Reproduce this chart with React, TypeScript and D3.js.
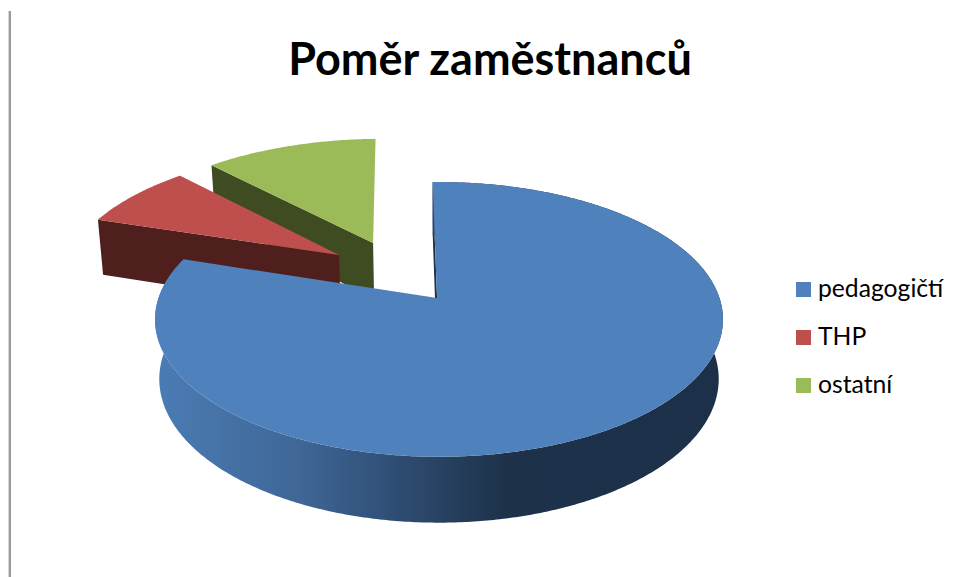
import * as d3 from "d3";

// Data
const categories = ["pedagogičtí", "THP", "ostatní"];
const shares = [80.3, 7.9, 11.8];
const topColors = ["#4f81bd", "#be4f4c", "#9bbb59"];
const wallColors = ["#1d3149", "#4f1f1e", "#3f4b21"];
// how far each slice is pulled out of the pie, in unit-circle coordinates
const explodeU = [0, -0.375, -0.251];
const explodeV = [0, -0.338, -0.438];
const sliceRadius = [1, 1.01, 1.02];
// the apex of the big slice sits slightly off the centre of its rim
const apexU = [-0.007, -0.375, -0.251];
const wallStops = [
  [0, "#4b7cb5"],
  [0.25, "#3f6797"],
  [0.42, "#2f4e74"],
  [0.62, "#1d3149"],
  [1, "#1c3049"],
];

const WIDTH = 956;
const HEIGHT = 577;
const FONT = "Lato, 'Open Sans', sans-serif";

// Perspective of the pie plane
const x0 = 439;
const y0 = 298;
const a = 280.5;
const b = 134;
const p = 0.156;
const bottomY0 = 356.6;
const bottomSX = 0.985;
const bottomSY = 1.046;

const START = (-1.5 * Math.PI) / 180;

type Pt = [number, number];

const toTop = (u: number, v: number): Pt => {
  const w = 1 - p * v;
  return [x0 + (a * u) / w, y0 + (b * v) / w];
};

const toBottom = (u: number, v: number): Pt => {
  const w = 1 - p * v;
  return [x0 + (bottomSX * a * u) / w, bottomY0 + (bottomSY * b * v) / w];
};

const line = d3.line<Pt>();

const pie = d3
  .pie<number>()
  .sort(null)
  .startAngle(START)
  .endAngle(START + 2 * Math.PI);

const App = () => {
  const arcs = pie(shares);

  const slices = arcs.map((d, i) => {
    const r = sliceRadius[i];
    const angles = d3.range(d.startAngle, d.endAngle, 0.01).concat(d.endAngle);
    const rim = angles.map((t): Pt => [explodeU[i] + r * Math.sin(t), explodeV[i] - r * Math.cos(t)]);
    const tip: Pt = [apexU[i], explodeV[i]];
    const topFace = [tip, ...rim].map(([u, v]) => toTop(u, v));
    const first = rim[0];
    const radialWall = [
      toTop(tip[0], tip[1]),
      toTop(first[0], first[1]),
      toBottom(first[0], first[1]),
      toBottom(tip[0], tip[1]),
    ];
    const outerWall = [
      ...rim.map(([u, v]) => toTop(u, v)),
      ...rim.map(([u, v]) => toBottom(u, v)).reverse(),
    ];
    return { topFace, radialWall, outerWall };
  });

  // back to front: ostatní, THP, pedagogičtí
  const order = d3.range(shares.length).reverse();

  return (
    <svg
      width={WIDTH}
      height={HEIGHT}
      style={{ position: "absolute", left: 0, top: 0, display: "block", background: "#fff" }}
    >
      <defs>
        <linearGradient id="blue-wall" gradientUnits="userSpaceOnUse" x1={155} x2={723} y1={0} y2={0}>
          {wallStops.map(([o, c]) => (
            <stop key={o} offset={o} stopColor={c as string} />
          ))}
        </linearGradient>
      </defs>

      <rect x={8} y={11} width={1} height={HEIGHT - 11} fill="#d8d8d8" />
      <rect x={9} y={11} width={2} height={HEIGHT - 11} fill="#9a9a9a" />

      <text
        x={490}
        y={75}
        textAnchor="middle"
        fontFamily={FONT}
        fontWeight={700}
        fontSize={45}
        fill="#000"
      >
        Poměr zaměstnanců
      </text>

      {order.map((i) => (
        <g key={categories[i]}>
          <path d={line(slices[i].radialWall) + "Z"} fill={wallColors[i]} />
          {i === 0 && <path d={line(slices[i].outerWall) + "Z"} fill="url(#blue-wall)" />}
          <path d={line(slices[i].topFace) + "Z"} fill={topColors[i]} />
        </g>
      ))}

      {categories.map((c, i) => (
        <g key={c} transform={`translate(796,${282 + i * 48})`}>
          <rect width={15} height={15} fill={topColors[i]} />
          <text x={22} y={15} fontFamily={FONT} fontSize={24.7} fill="#000">
            {c}
          </text>
        </g>
      ))}
    </svg>
  );
};

export default App;
